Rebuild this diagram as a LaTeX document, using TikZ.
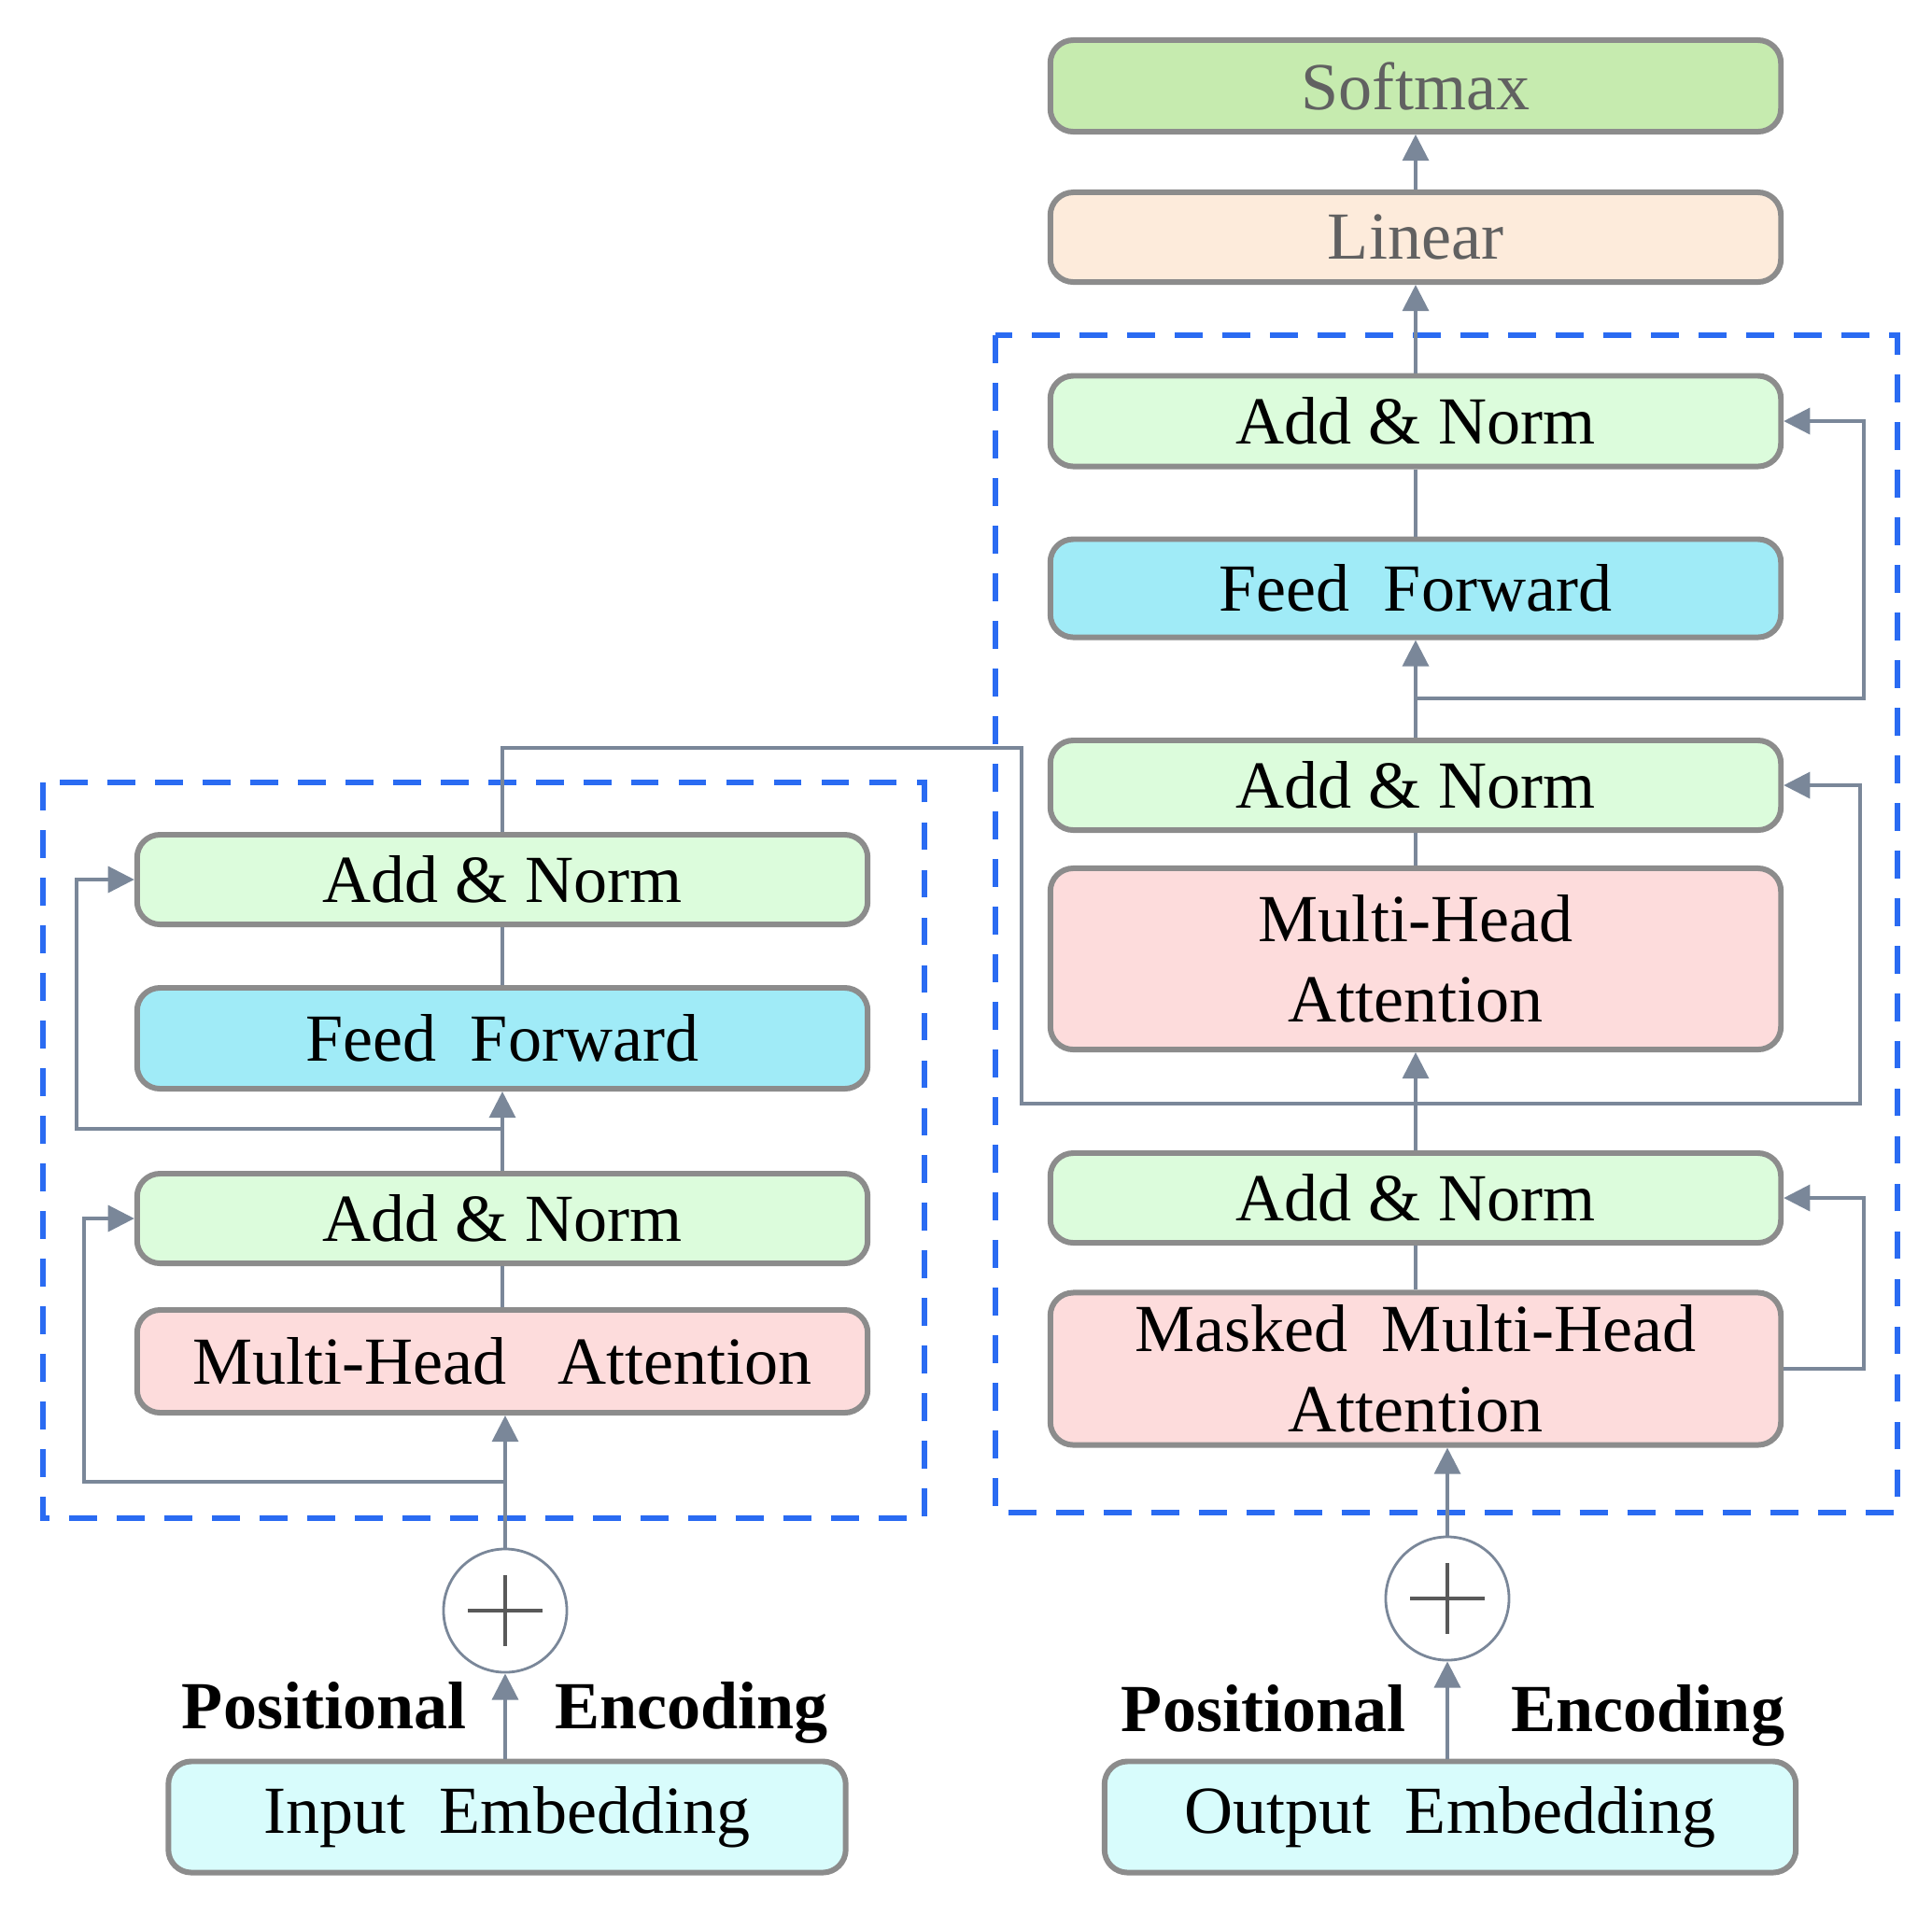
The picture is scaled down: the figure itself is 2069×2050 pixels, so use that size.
\documentclass[tikz,border=0pt]{standalone}
\usepackage{fontspec}
\setmainfont{Liberation Serif}
\usetikzlibrary{arrows.meta}
\definecolor{addnorm}{HTML}{DCFCDC}
\definecolor{feedfwd}{HTML}{A0EBF7}
\definecolor{attn}{HTML}{FDDCDC}
\definecolor{embed}{HTML}{D8FCFC}
\definecolor{linfill}{HTML}{FDEBDB}
\definecolor{softfill}{HTML}{C6EBAF}
\definecolor{boxedge}{HTML}{8C8C8C}
\definecolor{wire}{HTML}{7A8799}
\definecolor{frameblue}{HTML}{2A6BF2}

\begin{document}
\begin{tikzpicture}[x=0.01cm, y=-0.01cm,
  blk/.style={draw=boxedge, line width=1.7pt, rounded corners=7pt, inner sep=0pt,
    align=center, font=\fontsize{20.5}{24.5}\selectfont, minimum width=7.82cm},
  flow/.style={draw=wire, line width=0.9pt, -{Triangle[length=8pt,width=8pt]}},
  link/.style={draw=wire, line width=0.9pt},
  frame/.style={draw=frameblue, line width=1.8pt, dash pattern=on 8.5pt off 6pt},
  addc/.style={circle, draw=wire, line width=0.8pt, fill=white, minimum size=1.32cm, inner sep=0pt},
  plusmark/.style={draw=black!65, line width=1.1pt},
  poslab/.style={font=\bfseries\fontsize{20.5}{24.5}\selectfont, inner sep=0pt}]
  \useasboundingbox (0,0) rectangle (2069,2050);
  % dashed frames (encoder left, decoder right)
  \draw[frame] (46,838) rectangle (990,1626);
  \draw[frame] (1066,359) rectangle (2032,1620);

  % encoder stack
  \node[blk, fill=addnorm, minimum height=0.96cm] (encAN2) at (538,942) {Add \& Norm};
  \node[blk, fill=feedfwd, minimum height=1.08cm] (encFF) at (538,1112) {Feed~~Forward};
  \node[blk, fill=addnorm, minimum height=0.96cm] (encAN1) at (538,1305) {Add \& Norm};
  \node[blk, fill=attn, minimum height=1.10cm] (encMHA) at (538,1458) {Multi-Head~~~Attention};
  \node[addc] (encAdd) at (541,1725) {};
  \node[poslab] (posL) at (541,1834) {Positional\hspace{1.32em}Encoding};
  \node[blk, fill=embed, minimum width=7.25cm, minimum height=1.19cm] (inEmb) at (543,1946) {Input~~Embedding};

  % decoder stack
  \node[blk, fill=softfill, text=black!62, minimum height=0.98cm] (softmax) at (1516,92) {Softmax};
  \node[blk, fill=linfill, text=black!62, minimum height=0.96cm] (linear) at (1516,254) {Linear};
  \node[blk, fill=addnorm, minimum height=0.97cm] (decAN3) at (1516,451) {Add \& Norm};
  \node[blk, fill=feedfwd, minimum height=1.05cm] (decFF) at (1516,630) {Feed~~Forward};
  \node[blk, fill=addnorm, minimum height=0.96cm] (decAN2) at (1516,841) {Add \& Norm};
  \node[blk, fill=attn, minimum height=1.94cm] (decMHA) at (1516,1027) {Multi-Head\\Attention};
  \node[blk, fill=addnorm, minimum height=0.96cm] (decAN1) at (1516,1283) {Add \& Norm};
  \node[blk, fill=attn, minimum height=1.63cm] (decMask) at (1516,1466) {Masked~~Multi-Head\\Attention};
  \node[addc] (decAdd) at (1550,1712) {};
  \node[poslab] (posR) at (1556,1837) {Positional\hspace{1.57em}Encoding};
  \node[blk, fill=embed, minimum width=7.40cm, minimum height=1.19cm] (outEmb) at (1553,1946) {Output~~Embedding};

  % plus signs
  \draw[plusmark] (encAdd.center) ++(-40,0) -- ++(80,0) (encAdd.center) ++(0,-38) -- ++(0,76);
  \draw[plusmark] (decAdd.center) ++(-40,0) -- ++(80,0) (decAdd.center) ++(0,-38) -- ++(0,76);

  % branch points
  \coordinate (eb1) at (541,1587);
  \coordinate (eL1) at (90,1587);
  \coordinate (eb2) at (538,1209);
  \coordinate (eL2) at (82,1209);
  \coordinate (eTop) at (538,801);
  \coordinate (eCross) at (1094,801);
  \coordinate (eDown) at (1094,1182);
  \coordinate (db1) at (1516,1182);
  \coordinate (dR1) at (1992,1182);
  \coordinate (dR0) at (1996,1466);
  \coordinate (db2) at (1516,748);
  \coordinate (dR2) at (1996,748);

  % encoder wiring
  \draw[flow] (inEmb.north -| encAdd) -- (encAdd.south);
  \draw[flow] (encAdd.north) -- (encMHA.south -| encAdd);
  \draw[flow] (eb1) -- (eL1) |- (encAN1.west);
  \draw[link] (encMHA) -- (encAN1);
  \draw[flow] (encAN1.north) -- (encFF.south);
  \draw[flow] (eb2) -- (eL2) |- (encAN2.west);
  \draw[link] (encFF) -- (encAN2);
  % encoder output into decoder
  \draw[link] (encAN2.north) -- (eTop) -- (eCross) -- (eDown) -- (db1);

  % decoder wiring
  \draw[flow] (outEmb.north -| decAdd) -- (decAdd.south);
  \draw[flow] (decAdd.north) -- (decMask.south -| decAdd);
  \draw[flow] (decMask.east) -- (dR0) |- (decAN1.east);
  \draw[link] (decMask) -- (decAN1);
  \draw[flow] (decAN1.north) -- (decMHA.south);
  \draw[flow] (db1) -- (dR1) |- (decAN2.east);
  \draw[link] (decMHA) -- (decAN2);
  \draw[flow] (decAN2.north) -- (decFF.south);
  \draw[flow] (db2) -- (dR2) |- (decAN3.east);
  \draw[link] (decFF) -- (decAN3);
  \draw[flow] (decAN3.north) -- (linear.south);
  \draw[flow] (linear.north) -- (softmax.south);
\end{tikzpicture}
\end{document}
